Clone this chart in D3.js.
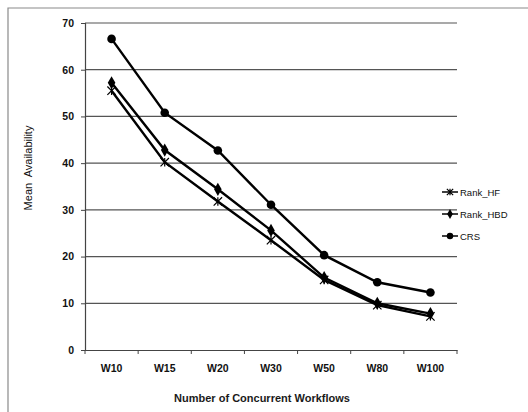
<!DOCTYPE html>
<html><head><meta charset="utf-8">
<script src="https://cdn.jsdelivr.net/npm/d3@7"></script>
<style>body{margin:0;background:#fff}svg{display:block}text{font-family:"Liberation Sans",Arial,sans-serif}</style>
</head><body>
<svg id="c" width="528" height="412"></svg>
<script>
const categories = ["W10","W15","W20","W30","W50","W80","W100"];
const rankHF  = [55.5, 40.2, 31.8, 23.5, 15.0, 9.6, 7.2];
const rankHBD = [57.2, 42.8, 34.4, 25.6, 15.5, 10.0, 7.8];
const crs     = [66.6, 50.8, 42.7, 31.1, 20.3, 14.5, 12.3];
const yTicks  = [0,10,20,30,40,50,60,70];
const seriesNames = ["Rank_HF","Rank_HBD","CRS"];
const seriesMarkers = ["star","diamond","circle"];

const svg = d3.select("#c");
const m = {l:85, r:457, t:23, b:350};
const x = d3.scaleBand().domain(categories).range([m.l, m.r]);
const y = d3.scaleLinear().domain([0,70]).range([m.b, m.t]);

// outer frame
svg.append("path").attr("d", `M8,412 L8,8 L528,8`).attr("fill","none")
  .attr("stroke","#8a8a8a").attr("stroke-width",1.2);

// gridlines
svg.append("g").selectAll("line").data(yTicks.filter(d=>d>0)).join("line")
  .attr("x1",m.l).attr("x2",m.r).attr("y1",d=>y(d)).attr("y2",d=>y(d))
  .attr("stroke","#555").attr("stroke-width",1.2);

// y axis
const ya = svg.append("g").attr("transform",`translate(${m.l},0)`)
  .call(d3.axisLeft(y).tickValues(yTicks).tickSize(4).tickPadding(7));
ya.select(".domain").attr("stroke","#444").attr("stroke-width",1.2);
ya.selectAll(".tick line").attr("stroke","#444");
ya.selectAll("text").attr("font-size",10.5).attr("font-weight","bold").attr("fill","#111");

// x axis
const xa = svg.append("g").attr("transform",`translate(0,${m.b})`)
  .call(d3.axisBottom(x).tickSize(0).tickPadding(15));
xa.select(".domain").attr("stroke","#444").attr("stroke-width",1.2);
xa.selectAll("text").attr("font-size",10.5).attr("font-weight","bold").attr("fill","#111");
// boundary ticks
const bounds = categories.map(c=>x(c)).concat([m.r]);
svg.append("g").selectAll("line").data(bounds).join("line")
  .attr("x1",d=>d).attr("x2",d=>d).attr("y1",m.b).attr("y2",m.b+4)
  .attr("stroke","#444");

// titles
svg.append("text").attr("x",262).attr("y",402).attr("text-anchor","middle")
  .attr("font-size",11).attr("font-weight","bold").attr("fill","#1a1a1a").text("Number of Concurrent Workflows");
svg.append("text").attr("transform","translate(32,168) rotate(-90)").attr("text-anchor","middle")
  .attr("font-size",11).attr("fill","#111").attr("xml:space","preserve").text("Mean  Availability");

const data = [rankHF, rankHBD, crs];
const line = d3.line().x((d,i)=>x(categories[i])+x.bandwidth()/2).y(d=>y(d));

function marker(g, type, cx, cy, s){
  if(type==="circle") g.append("circle").attr("cx",cx).attr("cy",cy).attr("r",4.3*s).attr("fill","#000");
  else if(type==="diamond") g.append("path").attr("d",d3.symbol(d3.symbolDiamond, 50*s*s)()).attr("transform",`translate(${cx},${cy})`).attr("fill","#000");
  else {
    const r=4.2*s;
    g.append("path").attr("d",`M${cx-r},${cy-r}L${cx+r},${cy+r}M${cx-r},${cy+r}L${cx+r},${cy-r}M${cx},${cy-r}L${cx},${cy+r}`)
      .attr("stroke","#000").attr("stroke-width",1.2);
  }
}

data.forEach((vals,k)=>{
  svg.append("path").datum(vals).attr("d",line).attr("fill","none")
    .attr("stroke","#000").attr("stroke-width",2.4);
  const g = svg.append("g");
  vals.forEach((v,i)=>marker(g, seriesMarkers[k], x(categories[i])+x.bandwidth()/2, y(v), 1));
});

// legend
const ly = [192,214,236];
seriesNames.forEach((n,k)=>{
  const g = svg.append("g");
  g.append("line").attr("x1",442).attr("x2",458).attr("y1",ly[k]).attr("y2",ly[k]).attr("stroke","#000").attr("stroke-width",1.5);
  marker(g, seriesMarkers[k], 450, ly[k], 0.75);
  g.append("text").attr("x",460).attr("y",ly[k]+3.5).attr("font-size",9.5).attr("fill","#111").text(n);
});
</script>
</body></html>
